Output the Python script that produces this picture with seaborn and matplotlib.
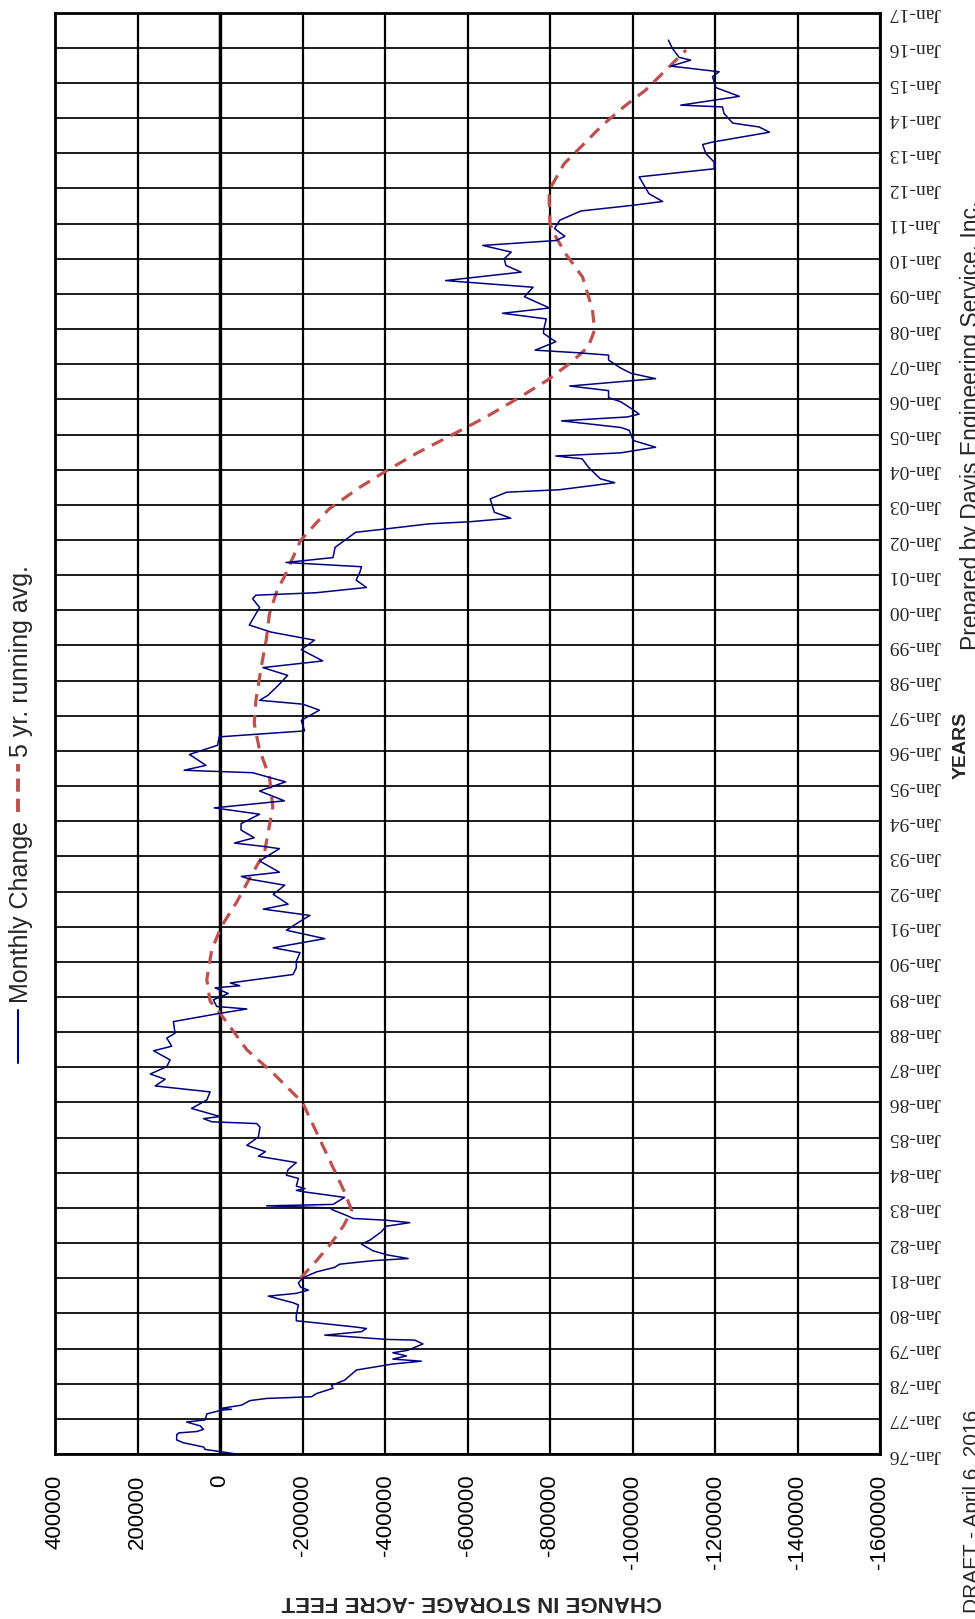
import numpy as np
import seaborn as sns
import matplotlib.pyplot as plt
from matplotlib.lines import Line2D

# monthly change in storage (acre-feet)
monthly_year = [
    1976.00, 1976.13, 1976.20, 1976.32, 1976.40, 1976.55, 1976.60, 1976.64, 1976.70, 1976.80,
    1976.91, 1976.97, 1977.14, 1977.25, 1977.27, 1977.30, 1977.39, 1977.52, 1977.58, 1977.63,
    1977.72, 1977.87, 1977.95, 1978.10, 1978.39, 1978.56, 1978.64, 1978.70, 1978.79, 1978.88,
    1978.95, 1979.13, 1979.24, 1979.26, 1979.35, 1979.38, 1979.48, 1979.57, 1979.62, 1979.76,
    1979.79, 1979.95, 1980.24, 1980.30, 1980.49, 1980.57, 1980.66, 1980.75, 1980.87, 1981.02,
    1981.18, 1981.31, 1981.40, 1981.50, 1981.56, 1981.66, 1981.78, 1981.97, 1982.08, 1982.32,
    1982.48, 1982.58, 1982.65, 1982.70, 1982.79, 1982.94, 1983.00, 1983.06, 1983.10, 1983.30,
    1983.46, 1983.50, 1983.55, 1983.62, 1983.84, 1983.93, 1984.09, 1984.29, 1984.47, 1984.60,
    1984.78, 1985.02, 1985.30, 1985.40, 1985.45, 1985.54, 1985.60, 1985.83, 1986.07, 1986.30,
    1986.47, 1986.66, 1986.81, 1987.02, 1987.21, 1987.47, 1987.60, 1987.83, 1987.97, 1988.30,
    1988.52, 1988.66, 1988.73, 1988.92, 1989.10, 1989.26, 1989.32, 1989.40, 1989.64, 1989.83,
    1990.02, 1990.26, 1990.40, 1990.66, 1990.90, 1991.21, 1991.32, 1991.50, 1991.64, 1991.92,
    1992.18, 1992.35, 1992.43, 1992.55, 1992.87, 1993.22, 1993.28, 1993.38, 1993.53, 1993.75,
    1993.93, 1994.20, 1994.38, 1994.58, 1994.86, 1995.12, 1995.38, 1995.45, 1995.59, 1995.90,
    1996.16, 1996.40, 1996.57, 1996.87, 1997.16, 1997.33, 1997.44, 1997.58, 1997.85, 1998.15,
    1998.37, 1998.56, 1998.88, 1999.15, 1999.38, 1999.58, 2000.08, 2000.33, 2000.43, 2000.50,
    2000.65, 2000.86, 2001.08, 2001.24, 2001.36, 2001.50, 2001.79, 2002.22, 2002.31, 2002.46,
    2002.52, 2002.62, 2002.79, 2003.17, 2003.36, 2003.43, 2003.63, 2003.74, 2004.07, 2004.31,
    2004.39, 2004.48, 2004.64, 2004.83, 2005.12, 2005.20, 2005.39, 2005.50, 2005.58, 2005.74,
    2005.93, 2006.05, 2006.25, 2006.38, 2006.59, 2006.74, 2006.90, 2007.12, 2007.26, 2007.33,
    2007.40, 2007.64, 2007.88, 2008.00, 2008.29, 2008.45, 2008.60, 2008.92, 2009.19, 2009.38,
    2009.62, 2009.81, 2010.00, 2010.19, 2010.38, 2010.52, 2010.64, 2010.86, 2011.10, 2011.36,
    2011.52, 2011.63, 2011.85, 2012.33, 2012.56, 2012.75, 2012.99, 2013.25, 2013.32, 2013.60,
    2013.75, 2013.86, 2014.13, 2014.32, 2014.37, 2014.62, 2014.87, 2015.18, 2015.32, 2015.48,
    2015.65, 2015.73, 2015.98, 2016.22,
]
monthly_change = [
    -40000, 36000, 40000, 89000, 105000, 105000, 100000, 56000, 40000, 48000,
    81000, 36000, 32000, -4000, -28000, -4000, -52000, -73000, -113000, -222000,
    -234000, -274000, -270000, -302000, -331000, -419000, -488000, -419000, -452000, -419000,
    -455000, -492000, -472000, -403000, -298000, -254000, -343000, -355000, -323000, -210000,
    -185000, -185000, -190000, -178000, -117000, -185000, -214000, -195000, -190000, -202000,
    -234000, -278000, -290000, -371000, -456000, -407000, -371000, -343000, -363000, -391000,
    -403000, -460000, -403000, -323000, -306000, -274000, -266000, -113000, -274000, -302000,
    -202000, -185000, -206000, -185000, -190000, -161000, -165000, -185000, -93000, -110000,
    -65000, -93000, -97000, -89000, 20000, 40000, 0, 69000, 32000, 24000,
    157000, 133000, 169000, 129000, 121000, 161000, 117000, 129000, 109000, 113000,
    8000, -65000, 8000, 16000, -20000, 12000, -48000, -25000, -177000, -185000,
    -185000, -194000, -129000, -254000, -161000, -202000, -218000, -105000, -165000, -129000,
    -157000, -73000, -52000, -144000, -96000, -144000, -108000, -35000, -83000, -51000,
    -51000, -96000, 14000, -156000, -96000, -159000, -79000, 87000, 34000, 74000,
    6000, 2000, -205000, -197000, -241000, -201000, -96000, -116000, -140000, -164000,
    -104000, -249000, -197000, -229000, -124000, -71000, -96000, -79000, -87000, -233000,
    -355000, -330000, -339000, -343000, -160000, -274000, -279000, -329000, -398000, -507000,
    -606000, -705000, -665000, -655000, -695000, -823000, -957000, -922000, -893000, -878000,
    -814000, -972000, -1056000, -1002000, -992000, -972000, -828000, -987000, -1016000, -997000,
    -972000, -942000, -942000, -848000, -1056000, -997000, -970000, -942000, -942000, -863000,
    -764000, -814000, -784000, -785000, -791000, -685000, -799000, -738000, -759000, -547000,
    -730000, -693000, -689000, -706000, -637000, -815000, -836000, -811000, -824000, -875000,
    -1000000, -1073000, -1040000, -1016000, -1198000, -1198000, -1178000, -1170000, -1194000, -1332000,
    -1307000, -1243000, -1222000, -1218000, -1117000, -1259000, -1202000, -1194000, -1210000, -1093000,
    -1141000, -1113000, -1097000, -1087000,
]

# 5 yr. running average
avg_year = [
    1981.00, 1981.50, 1982.00, 1982.50, 1982.94, 1983.50, 1984.00, 1985.00, 1986.00, 1986.83,
    1987.50, 1988.00, 1988.54, 1988.88, 1989.50, 1990.35, 1991.02, 1991.69, 1992.36, 1993.12,
    1994.40, 1995.26, 1996.02, 1996.78, 1997.44, 1998.39, 1999.15, 1999.91, 2000.62, 2000.93,
    2001.98, 2002.31, 2002.88, 2003.50, 2003.93, 2004.47, 2004.95, 2005.50, 2006.05, 2006.55,
    2007.07, 2007.50, 2007.97, 2008.55, 2009.48, 2010.14, 2010.71, 2011.00, 2011.66, 2011.95,
    2012.70, 2013.23, 2013.80, 2014.37, 2014.80, 2015.37, 2015.94,
]
avg_change = [
    -195000, -234000, -270000, -300000, -319000, -300000, -280000, -240000, -200000, -129000,
    -65000, -34000, 0, 24000, 32000, 20000, -4000, -40000, -71000, -108000,
    -128000, -120000, -96000, -83000, -87000, -100000, -112000, -120000, -140000, -155000,
    -195000, -220000, -264000, -339000, -398000, -477000, -556000, -645000, -725000, -794000,
    -853000, -893000, -908000, -903000, -879000, -838000, -810000, -800000, -798000, -798000,
    -834000, -879000, -927000, -984000, -1032000, -1081000, -1130000,
]

value_ticks = list(range(400000, -1600001, -200000))
year_ticks = list(range(1976, 2018))
year_labels = ["Jan-%02d" % (y % 100) for y in year_ticks]

sns.set_style("white")
plt.rcParams['font.family'] = ['Liberation Sans', 'DejaVu Sans']

W, H = 975, 1619
fig = plt.figure(figsize=(W / 100, H / 100), dpi=100)
ax = fig.add_axes([55 / W, (H - 1454) / H, (880 - 55) / W, (1454 - 12.7) / H])

blue = '#000080'
red = '#C0504D'

sns.lineplot(x=monthly_change, y=monthly_year, orient='y', estimator=None, sort=False,
             color=blue, lw=1.1, ax=ax, zorder=4)
sns.lineplot(x=avg_change, y=avg_year, orient='y', estimator=None, sort=False,
             color=red, lw=2.3, linestyle=(0, (4, 2.6)), ax=ax, zorder=3)

ax.set_xlim(400000, -1600000)
ax.set_ylim(1976, 2017)
ax.set_xticks(value_ticks)
ax.set_xticklabels([str(v) for v in value_ticks])
ax.set_yticks(year_ticks)
ax.set_yticklabels(year_labels)

ax.grid(axis='x', color='black', lw=1.6, zorder=1)
ax.grid(axis='y', color='black', lw=1.25, zorder=1)
ax.axvline(0, color='black', lw=2.4, zorder=2)
for s in ax.spines.values():
    s.set_visible(True)
    s.set_color('black')
    s.set_linewidth(2)

ax.tick_params(axis='x', direction='out', length=5, width=1.5, pad=10,
               labelsize=16, labelrotation=90, colors='black')
ax.yaxis.tick_right()
ax.tick_params(axis='y', length=0, pad=6, labelsize=14, labelrotation=180,
               labelfontfamily='Liberation Serif')
for lbl in ax.get_yticklabels():
    lbl.set_va('center')

ax.set_xlabel('CHANGE IN STORAGE -ACRE FEET', rotation=180, fontweight='bold', fontsize=16)
ax.xaxis.set_label_coords((472 - 55) / 825, -(1601 - 1454) / 1441.3)
ax.xaxis.label.set_va('center')

ax.set_ylabel('YEARS', rotation=90, fontweight='bold', fontsize=14)
ax.yaxis.set_label_position('right')
ax.yaxis.set_label_coords((961 - 55) / 825, (1454 - 745) / 1441.3)
ax.yaxis.label.set_va('center')
ax.yaxis.label.set_ha('center')

# hand-drawn legend, rotated like the rest of the page
lx = 18 / W
fig.add_artist(Line2D([lx, lx], [1 - 1063 / H, 1 - 1010 / H], transform=fig.transFigure,
                      color=blue, lw=1.5))
fig.text(21 / W, 1 - 1003 / H, 'Monthly Change', rotation=90, ha='center', va='bottom', fontsize=18)
fig.add_artist(Line2D([lx, lx], [1 - 812 / H, 1 - 764 / H], transform=fig.transFigure,
                      color=red, lw=2.8, linestyle=(0, (3.4, 1.8))))
fig.text(21 / W, 1 - 757 / H, '5 yr. running avg.', rotation=90, ha='center', va='bottom', fontsize=18)

fig.text(978 / W, 1 - 650 / H, 'Prepared by Davis Engineering Service, Inc.', rotation=90,
         rotation_mode='anchor', ha='left', va='baseline', fontsize=16.5)
fig.text(978 / W, 1 - 1613 / H, 'DRAFT - April 6, 2016', rotation=90,
         rotation_mode='anchor', ha='left', va='baseline', fontsize=15)

fig.savefig('out.png', dpi=100, facecolor='white')
